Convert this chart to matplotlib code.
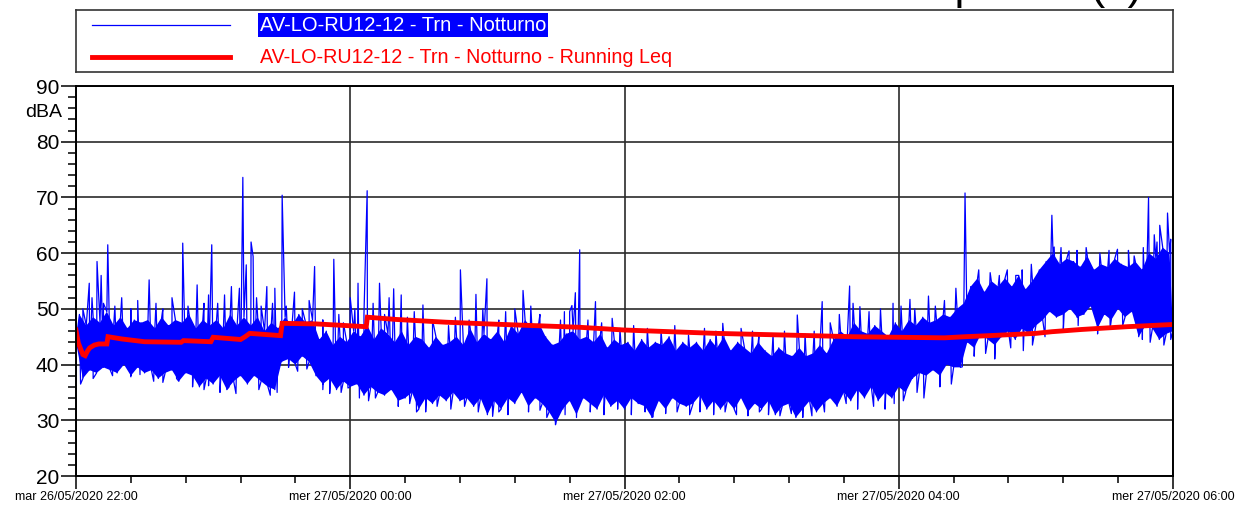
import numpy as np
import matplotlib
matplotlib.use('Agg')
import matplotlib.pyplot as plt
from matplotlib.ticker import MultipleLocator

# minutes after 22:00, noise levels in dBA
# lower edge of the dense band, every 3 minutes
lo_t = np.arange(0, 481, 3)
lo_db = [44, 37.5, 39, 38.5, 39.5,  39, 38.5, 40, 38, 39.5,  38.5, 39, 37.5, 38.5, 39,
         37, 38.5, 38, 36, 37.5,  36.5, 38, 35.5, 37, 38,  36.5, 38, 37, 36, 35.5,
         40.5, 41, 40, 41.5, 40.5,  38, 36.5, 37.5, 35.5, 37,  36, 36.5, 34.5, 36, 35,
         34.5, 35.5, 33.5, 34, 35,  32, 34, 33, 34.5, 33.5,  35, 33.5, 34, 32.5, 34,
         31, 33.5, 32, 34, 33,  35, 32.5, 34, 33, 31.5,  29.5, 32, 33.5, 31, 34,
         33, 32, 34.5, 32.5, 33.5,  32, 34, 33, 32.5, 30.5,  33.5, 32, 34, 33, 32.5,
         33, 34.5, 32, 33.5, 32,  33.5, 32, 34, 31.5, 33,  32, 33.5, 31, 32.5, 33,
         30.5, 32, 33.5, 31.5, 33,  34, 32.5, 35, 33.5, 35.5,  34, 36, 33.5, 35, 34,
         36, 35, 37.5, 38.5, 38,  39, 38, 40, 39.5, 39.5,  44, 43, 45.5, 44.5, 43.5,
         45, 46, 44.5, 46.5, 45.5,  47, 48, 49.5, 48.5, 49,  50, 48.5, 49, 50.5, 46.5,
         49, 48, 50, 48.5, 49.5,  45, 47, 46.5, 44.5, 45.5,  46]

# upper edge of the dense band, every 3 minutes
hi_t = np.arange(1.5, 480, 3)
hi_db = [49, 47, 48.5, 47.5, 49.5,  47, 48.5, 46.5, 48, 47.5,  48, 46.5, 48.5, 47, 48,
         47.5, 49, 46.5, 48, 47,  48, 46.5, 49, 47, 48.5,  47, 48.5, 46, 47.5, 46.5,
         48.5, 47, 49, 47.5, 48,  44.5, 46, 43.5, 45, 44,  46, 45, 47, 44.5, 46.5,
         45.5, 44, 46, 43.5, 45,  44.5, 43, 45, 43.5, 44,  45, 43.5, 46.5, 44, 45.5,
         44.5, 46, 44, 47, 45.5,  48, 46.5, 47.5, 45, 43.5,  44, 45.5, 46, 44.5, 45,
         44, 45.5, 43, 44.5, 43.5,  44, 42.5, 44.5, 43, 44,  43.5, 45, 42.5, 44, 43,
         44, 42.5, 44.5, 43, 45,  42.5, 44, 43, 42, 44,  42.5, 41.5, 43, 42, 41.5,
         43, 41.5, 42, 43.5, 42,  44.5, 46, 45, 47.5, 46,  45.5, 47, 46, 45, 47.5,
         46, 48, 47, 48.5, 47.5,  48, 49, 48.5, 50, 51,  54, 55.5, 53, 55, 54,
         55.5, 54, 56, 53.5, 55,  57, 58.5, 60, 58, 59,  58.5, 57.5, 59.5, 57, 58,
         57.5, 59, 58, 57.5, 58.5,  57, 60, 59, 61, 60]

# single loud events
spike_t = [5.8, 9.2, 11, 13.9, 32, 46.7, 53, 59.4, 71.5, 73, 74.5, 76.6, 77.5, 83.5,
           87, 90.2, 95.6, 104.4, 112.8, 120, 123.4, 127.4, 132.8, 137, 139, 142.3,
           151.8, 168.2, 175, 179.8, 195.6, 213.7, 217, 218.5, 220.4, 227.3, 234.6,
           268, 283, 298.8, 315.6, 326.5, 338.5, 343, 357.5, 364.9, 373, 385, 389,
           407.5, 411.2, 427, 428, 434.5, 455.7, 460.5, 469.3, 471.8, 474.2, 477.6]
spike_db = [54.6, 58.5, 56, 61.5, 55.2, 61.8, 54.3, 61.5, 53.7, 73.6, 57.9, 62, 59.4, 54,
            53.7, 70.4, 53, 57.6, 58.9, 52, 54.6, 71.2, 54.6, 52, 53.6, 52.5,
            50.7, 57, 52.6, 55.4, 53.3, 49.5, 50.6, 52.9, 60.6, 51.3, 48.3,
            45.3, 47.4, 45.1, 48.9, 51.3, 54.1, 50.4, 51, 51.7, 52.3, 53.7, 70.8,
            57, 56, 66.8, 61.1, 60.4, 60.7, 60.5, 70, 63.3, 65, 67.2]

# smaller peaks just above the band
peak_t = [3, 7, 12, 17, 20, 24, 27, 35, 38, 42, 49, 56, 58, 62, 65, 68, 79, 81, 86,
          92, 99, 102, 108, 115, 117, 122, 126, 130, 135, 145, 148, 156, 163, 166, 172,
          178, 185, 188, 192, 199, 203, 212, 216, 224, 230, 238, 244, 250, 256, 262,
          275, 280, 291, 296, 305, 310, 319, 323, 330, 334, 340, 347, 352, 361, 367,
          376, 380, 395, 400, 404, 414, 418, 431, 438, 442, 448, 452, 463, 467, 473, 479]
peak_db = [50, 52, 51, 50.5, 52, 50, 51.5, 51, 50, 52, 50.5, 51, 52.5, 51, 52.5, 54, 52,
           50.5, 51, 50.5, 50, 51.5, 48, 49, 47.5, 50, 49, 51, 49, 48.5, 49.5, 48, 47,
           48.5, 48, 50, 48, 49.5, 50, 50.5, 49, 48, 49.5, 48, 47.5, 46.5, 47, 46.5,
           46, 47, 46.5, 46, 46.5, 46, 45.5, 46, 45.5, 46, 47.5, 49, 51, 49.5, 50,
           50.5, 50, 50.5, 51.5, 57, 56.5, 56, 57, 58, 61, 60.5, 61, 60, 60.5, 59.5,
           61, 62, 62.5]

# short dips below the band
dip_t = [2, 7.5, 16, 24, 28, 34, 38, 44, 51, 56, 58, 63, 67, 70, 80, 85, 88, 93, 97,
         101, 108, 111, 116, 119, 124, 128, 131, 141, 146, 149, 153, 158, 164, 170,
         176, 182.3, 185, 189, 198, 203, 206, 209.8, 214, 219, 225, 231, 237, 243,
         249, 252.5, 258, 263, 268.5, 273, 279, 284, 289, 294, 299, 303, 308, 313,
         318, 322, 327.5, 333, 337, 342, 349, 354, 358, 362, 368, 371, 378, 383,
         387.8, 393, 398, 402, 409, 414.5, 418.5, 424, 432, 438.5, 447, 452.5, 458,
         466.6, 470, 476, 479]
dip_db = [36.5, 37.5, 38, 37.8, 38.2, 37, 36.8, 37.5, 36, 35.5, 36.2, 35, 36, 34.8,
          35.5, 34.5, 35, 39.5, 38.8, 39.2, 35.5, 34.8, 35, 35.8, 34, 33.5, 34, 32.5,
          33, 31.5, 31.5, 32.5, 32, 32.5, 31.5, 30.7, 31.5, 31, 31.5, 31.8, 30.5,
          29.2, 31, 30.5, 31.5, 31, 32, 31, 31.5, 30.6, 31.2, 31.5, 31, 31.5, 31,
          31.5, 31, 30.8, 31.5, 31, 30.8, 31.2, 30.5, 30.8, 31.5, 32.5, 33, 32,
          32.5, 32, 33, 33.5, 35, 34, 36, 36.5, 39.6, 41.5, 42, 41, 43, 42.5, 43.5,
          45, 46, 47, 45.5, 46.5, 47, 44.5, 44, 43.5, 44.5]

leq_t = [0, 1, 3, 4, 5, 6, 8, 10, 13.5, 14, 20, 30, 46, 47, 59, 60, 72, 74, 76, 89.5,
         90.2, 105, 127, 127.5, 140, 162, 180, 200, 220, 240, 260, 280, 300, 321, 340,
         360, 380, 389, 400, 420, 427, 440, 460, 480]
leq_db = [46.2, 43.9, 41.8, 41.6, 42.4, 43, 43.5, 43.7, 43.7, 45, 44.6, 44.1, 44, 44.3,
          44.1, 44.9, 44.5, 45, 45.6, 45.2, 47.4, 47.3, 46.8, 48.5, 48.1, 47.6, 47.3,
          47, 46.7, 46.2, 45.9, 45.6, 45.4, 45.2, 45, 44.9, 44.8, 45, 45.2, 45.6,
          45.9, 46.3, 46.8, 47.2]

series_labels = ['AV-LO-RU12-12 - Trn - Notturno',
                 'AV-LO-RU12-12 - Trn - Notturno - Running Leq']
xtick_pos = [0, 120, 240, 360, 480]
xtick_labels = ['mar 26/05/2020 22:00', 'mer 27/05/2020 00:00', 'mer 27/05/2020 02:00',
                'mer 27/05/2020 04:00', 'mer 27/05/2020 06:00']

plt.rcParams['font.family'] = ['Liberation Sans', 'DejaVu Sans']

t_all = np.concatenate([lo_t, hi_t, spike_t, peak_t, dip_t])
v_all = np.concatenate([lo_db, hi_db, spike_db, peak_db, dip_db])
order = np.argsort(t_all, kind='stable')

W, H = 1240, 507
fig = plt.figure(figsize=(W / 100, H / 100), dpi=100)
ax = fig.add_axes([76 / W, 1 - 476 / H, 1097 / W, 390 / H])

# dense band of the 1 s levels, then the trace itself on top
ax.fill(np.concatenate([hi_t, lo_t[::-1]]), np.concatenate([hi_db, lo_db[::-1]]),
        color='#0000ff', lw=0, zorder=3)
ax.plot(t_all[order], v_all[order], color='#0000ff', lw=0.9, zorder=3)
ax.plot(leq_t, leq_db, color='#ff0000', lw=3.5, zorder=4, solid_joinstyle='miter')

ax.set_xlim(0, 480)
ax.set_ylim(20, 90)
ax.set_yticks(range(20, 91, 10))
ax.yaxis.set_minor_locator(MultipleLocator(2))
ax.set_xticks(xtick_pos)
ax.set_xticklabels(xtick_labels, fontsize=9)
ax.xaxis.set_minor_locator(MultipleLocator(24))
ax.tick_params(axis='y', which='major', length=10.5, width=1.1, pad=1.5, labelsize=15)
ax.tick_params(axis='y', which='minor', length=5.5, width=1.1)
ax.tick_params(axis='x', which='major', length=9, width=1.1, pad=2)
ax.tick_params(axis='x', which='minor', length=5, width=1.1)
ax.grid(True, which='major', color='#2b2b2b', lw=1.2, zorder=1)
for s in ax.spines.values():
    s.set_linewidth(1.4)
    s.set_zorder(5)
ax.text(-0.013, 85.2, 'dBA', transform=ax.get_yaxis_transform(), ha='right',
        va='center', fontsize=14)

# legend box drawn in pixel units
lg = fig.add_axes([76 / W, 1 - 72 / H, 1097 / W, 62 / H])
lg.set_xlim(0, 1097)
lg.set_ylim(62, 0)
lg.set_xticks([])
lg.set_yticks([])
for s in lg.spines.values():
    s.set_linewidth(1.2)
    s.set_color('#333333')
lg.plot([16, 154], [15, 15], color='#0000ff', lw=0.9)
lg.plot([16, 154], [47, 47], color='#ff0000', lw=3.5)
lg.text(184, 15, series_labels[0], color='white', fontsize=14.5,
        va='center', ha='left',
        bbox=dict(facecolor='#0000ff', edgecolor='none', pad=1.5))
lg.text(184, 47, series_labels[1], color='#ff0000', fontsize=14.2,
        va='center', ha='left')

# title sits above the image edge; only its descenders show
fig.text(1142 / W, 1 + 1 / H, 'Profilo temporale (x)', ha='right', va='baseline',
         fontsize=32)

fig.savefig('out.png', dpi=100)
